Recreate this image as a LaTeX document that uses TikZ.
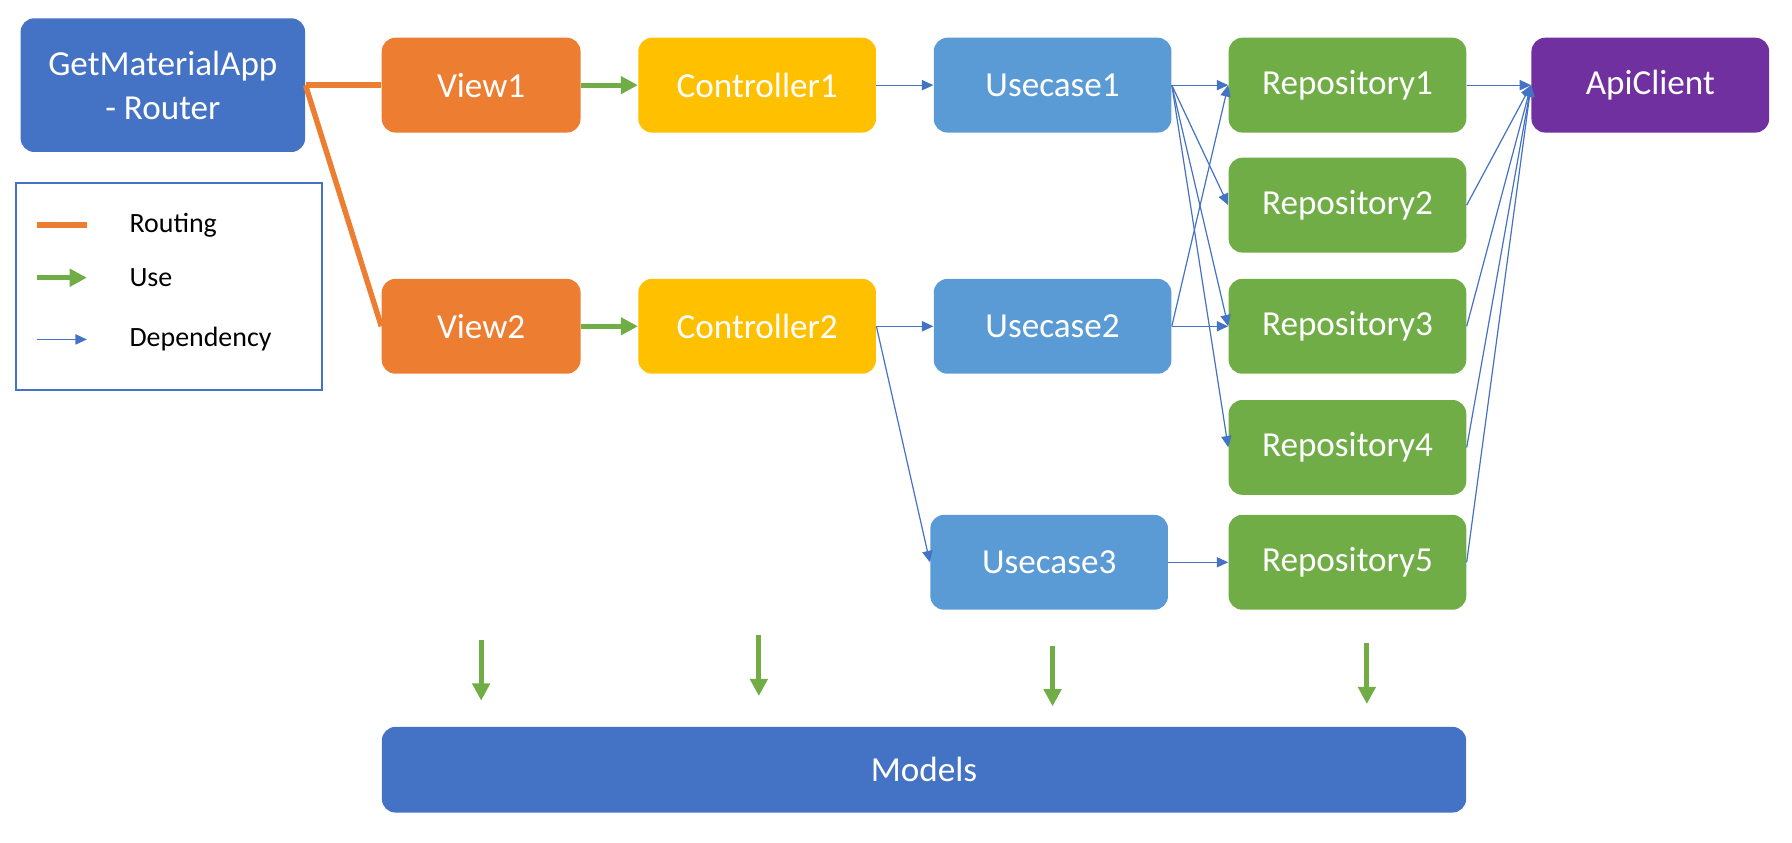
\documentclass[tikz,border=0pt]{standalone}
\usepackage{fontspec}
\setmainfont{Carlito}
\usetikzlibrary{arrows.meta}
\definecolor{appblue}{HTML}{4472C4}
\definecolor{vieworange}{HTML}{ED7D31}
\definecolor{ctrlyellow}{HTML}{FFC000}
\definecolor{ucblue}{HTML}{5B9BD5}
\definecolor{repogreen}{HTML}{70AD47}
\definecolor{apipurple}{HTML}{7030A0}

\begin{document}
\begin{tikzpicture}[x=0.02cm, y=-0.02cm,
  box/.style={rectangle, rounded corners=0.24cm, inner sep=0pt,
    minimum width=4.16cm, minimum height=1.66cm, text=white,
    font=\fontsize{17.5}{21}\selectfont},
  routing/.style={vieworange, line width=2.7pt},
  use/.style={repogreen, line width=2.5pt,
    -{Triangle[length=0.3cm, width=0.3cm]}},
  dependency/.style={appblue, line width=0.6pt,
    -{Triangle[length=0.2cm, width=0.18cm]}}]
  \useasboundingbox (0,0) rectangle (1568,737.6);
  % boxes
  \node[box, fill=appblue, minimum width=4.98cm, minimum height=2.34cm,
    align=center, font=\fontsize{17.5}{22}\selectfont]
    (app) at (142.5,74.5) {GetMaterialApp\\- Router};
  \foreach \i/\y in {1/74.5, 2/285.5} {
    \node[box, fill=vieworange, minimum width=3.48cm] (view\i) at (421,\y) {View\i};
    \node[box, fill=ctrlyellow] (ctrl\i) at (662.5,\y) {Controller\i};
    \node[box, fill=ucblue] (uc\i) at (921,\y) {Usecase\i};
  }
  \node[box, fill=ucblue] (uc3) at (918,492) {Usecase3};
  \foreach \i/\y in {1/74.5, 2/179.5, 3/285.5, 4/391.5, 5/492}
    \node[box, fill=repogreen] (repo\i) at (1179,\y) {Repository\i};
  \node[box, fill=apipurple] (api) at (1444,74.5) {ApiClient};
  \node[box, fill=appblue, minimum width=18.98cm, minimum height=1.5cm]
    (models) at (808.5,673.5) {Models};

  % connectors
  \draw[routing] (app.east) -- (view1.west);
  \draw[routing] (app.east) -- (view2.west);
  \foreach \i in {1,2} {
    \draw[use] (view\i) -- (ctrl\i);
    \draw[dependency] (ctrl\i) -- (uc\i);
  }
  \draw[dependency] (ctrl2.east) -- (uc3.west);
  \foreach \r in {1,...,4}
    \draw[dependency] (uc1.east) -- (repo\r.west);
  \foreach \r in {1,3}
    \draw[dependency] (uc2.east) -- (repo\r.west);
  \draw[dependency] (uc3.east) -- (repo5.west);
  \foreach \r in {1,...,5}
    \draw[dependency] (repo\r.east) -- (api.west);
  \foreach \x/\y in {421/560, 664/556, 921/565, 1196/563}
    \draw[use] (\x,\y) -- (\x,\y+53);

  % legend
  \draw[appblue, line width=0.8pt] (14,160) rectangle (282,341);
  \foreach \s/\y/\t in {routing/197/Routing, use/243/Use, dependency/297/Dependency} {
    \coordinate (\s-a) at (32,\y);
    \coordinate (\s-b) at (76,\y);
    \draw[\s] (\s-a) -- (\s-b);
    \node[anchor=west, inner sep=0pt, font=\fontsize{13.9}{16}\selectfont]
      (\s-text) at (113,\y) {\t};
  }
\end{tikzpicture}
\end{document}
